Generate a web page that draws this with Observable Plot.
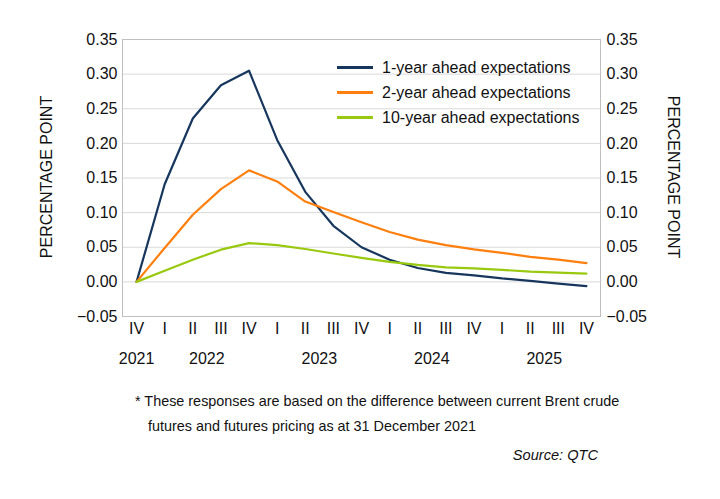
<!DOCTYPE html>
<html>
<head>
<meta charset="utf-8">
<script src="https://cdn.jsdelivr.net/npm/d3@7"></script>
<script src="https://cdn.jsdelivr.net/npm/@observablehq/plot@0.6"></script>
<style>
  html, body { margin: 0; padding: 0; background: #fff; }
  body { width: 720px; height: 499px; position: relative; font-family: "Liberation Sans", Arial, sans-serif; color: #111; overflow: hidden; }
  #chart svg { display: block; }
  #legend { position: absolute; left: 337px; top: 55px; font-size: 16px; }
  #legend .row { display: flex; align-items: center; height: 25px; }
  #legend .sw { width: 36px; height: 2.5px; margin-right: 9px; }
  #note { position: absolute; left: 135px; top: 389px; font-size: 14.4px; line-height: 25px; }
  #note .l2 { padding-left: 13px; }
  #source { position: absolute; right: 122px; top: 447px; font-size: 14.6px; font-style: italic; }
</style>
</head>
<body>
<div id="chart"></div>
<div id="legend"></div>
<div id="note"></div>
<div id="source"></div>
<script>
const quarters = ["IV","I","II","III","IV","I","II","III","IV","I","II","III","IV","I","II","III","IV"];
const yearLabels = ["2021","2022","2023","2024","2025"];
const yearPositions = [0, 2.5, 6.5, 10.5, 14.5];
const seriesNames = ["1-year ahead expectations","2-year ahead expectations","10-year ahead expectations"];
const seriesColors = ["#17365d","#ff7f0e","#99c90f"];
const oneYear = [0, 0.141, 0.236, 0.284, 0.305, 0.205, 0.130, 0.081, 0.050, 0.032, 0.020, 0.013, 0.0095, 0.005, 0.0015, -0.0025, -0.006];
const twoYear = [0, 0.049, 0.097, 0.134, 0.161, 0.145, 0.116, 0.101, 0.086, 0.072, 0.061, 0.053, 0.047, 0.042, 0.036, 0.032, 0.027];
const tenYear = [0, 0.016, 0.032, 0.0465, 0.056, 0.053, 0.0475, 0.041, 0.0346, 0.029, 0.0245, 0.021, 0.0196, 0.0173, 0.0148, 0.0134, 0.012];
const yTicks = [-0.05, 0, 0.05, 0.10, 0.15, 0.20, 0.25, 0.30, 0.35];
const yTitle = "PERCENTAGE POINT";
const noteLines = ["* These responses are based on the difference between current Brent crude", "futures and futures pricing as at 31 December 2021"];
const sourceText = "Source: QTC";

const allSeries = [oneYear, twoYear, tenYear];
const data = allSeries.flatMap((vals, s) => vals.map((v, i) => ({i, v, series: seriesNames[s]})));

const plot = Plot.plot({
  width: 720,
  height: 372,
  marginTop: 39,
  marginBottom: 56,
  marginLeft: 122,
  marginRight: 120,
  style: {fontFamily: "Liberation Sans, Arial, sans-serif", fontSize: "16px", color: "#111"},
  x: {domain: [-0.5, quarters.length - 0.5]},
  y: {domain: [-0.05, 0.35]},
  color: {domain: seriesNames, range: seriesColors},
  marks: [
    Plot.gridY(yTicks, {stroke: "#d9d9d9", strokeOpacity: 1}),
    Plot.frame({stroke: "#bfbfbf"}),
    Plot.axisY(yTicks, {anchor: "left", tickSize: 0, tickPadding: 5, tickFormat: d3.format(".2f"), label: null, fontSize: 16}),
    Plot.axisY(yTicks, {anchor: "right", tickSize: 0, tickPadding: 6, tickFormat: d3.format(".2f"), label: null, fontSize: 16}),
    Plot.axisX(d3.range(quarters.length), {tickSize: 0, tickPadding: 6, tickFormat: i => quarters[i], label: null, fontSize: 16}),
    Plot.axisX(yearPositions, {tickSize: 0, tickPadding: 36, tickFormat: (d, k) => yearLabels[k], label: null, fontSize: 16}),
    Plot.line(data, {x: "i", y: "v", z: "series", stroke: "series", strokeWidth: 2.2, strokeLinejoin: "round"})
  ]
});
document.getElementById("chart").appendChild(plot);

// rotated axis titles
const svg = d3.select(plot);
svg.append("text").attr("transform", "translate(48,177) rotate(-90)")
  .attr("text-anchor", "middle").attr("dominant-baseline", "middle")
  .attr("font-size", 16).attr("fill", "#111").text(yTitle);
svg.append("text").attr("transform", "translate(672,177) rotate(90)")
  .attr("text-anchor", "middle").attr("dominant-baseline", "middle")
  .attr("font-size", 16).attr("fill", "#111").text(yTitle);

const legend = d3.select("#legend");
seriesNames.forEach((n, k) => {
  const row = legend.append("div").attr("class", "row");
  row.append("div").attr("class", "sw").style("background", seriesColors[k]);
  row.append("span").text(n);
});
const note = d3.select("#note");
noteLines.forEach((t, k) => note.append("div").attr("class", k ? "l2" : "l1").text(t));
d3.select("#source").text(sourceText);
</script>
</body>
</html>
